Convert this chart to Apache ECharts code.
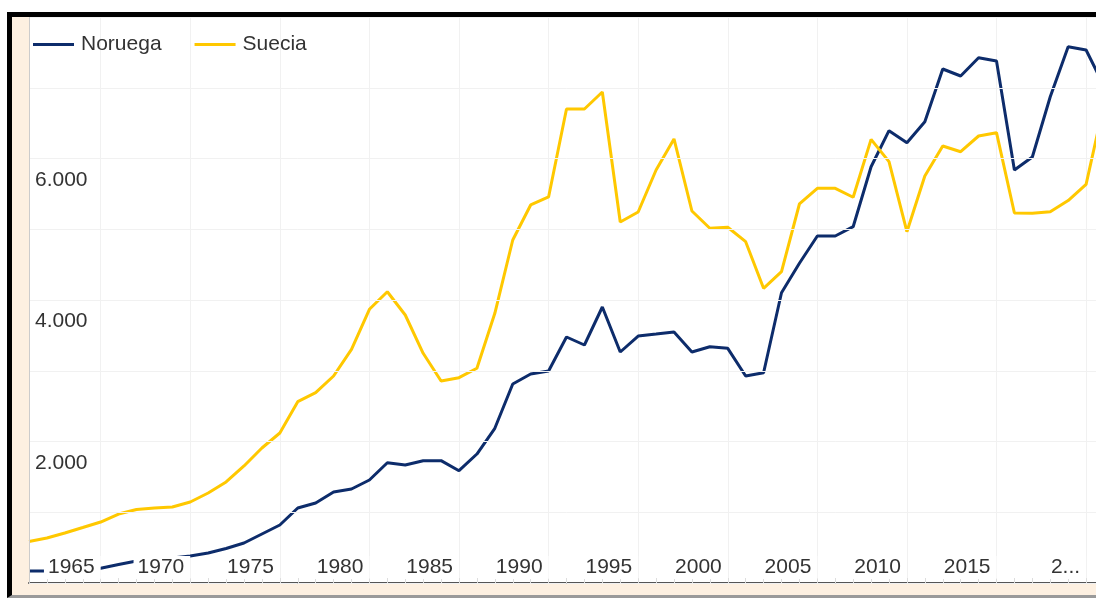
<!DOCTYPE html>
<html>
<head>
<meta charset="utf-8">
<script src="https://cdn.jsdelivr.net/npm/echarts@6/dist/echarts.min.js"></script>
<style>
  html, body { margin: 0; padding: 0; background: #fff; overflow: hidden; width: 1096px; height: 598px; }
  #frame {
    position: absolute; left: 7px; top: 12px;
    width: 1150px; height: 578px;
    border-top: 5px solid #000; border-left: 5px solid #000; border-bottom: 3px solid #9a9a9a;
    background: #fdf0e1;
  }
  #chart { width: 1150px; height: 578px; }
</style>
</head>
<body>
<div id="frame"><div id="chart"></div></div>
<script>
const years = [
  1961, 1962, 1963, 1964, 1965, 1966, 1967, 1968, 1969, 1970,
  1971, 1972, 1973, 1974, 1975, 1976, 1977, 1978, 1979, 1980,
  1981, 1982, 1983, 1984, 1985, 1986, 1987, 1988, 1989, 1990,
  1991, 1992, 1993, 1994, 1995, 1996, 1997, 1998, 1999, 2000,
  2001, 2002, 2003, 2004, 2005, 2006, 2007, 2008, 2009, 2010,
  2011, 2012, 2013, 2014, 2015, 2016, 2017, 2018, 2019, 2020, 2021
];
const noruega = [
  170, 170, 184, 198, 208, 261, 311, 339, 353, 382,
  424, 488, 565, 693, 820, 1060, 1131, 1286, 1329, 1456,
  1700, 1668, 1729, 1729, 1587, 1823, 2187, 2813, 2954, 2996,
  3477, 3364, 3901, 3265, 3491, 3519, 3548, 3265, 3340, 3317,
  2926, 2972, 4103, 4519, 4905, 4905, 5036, 5884, 6393, 6223,
  6520, 7265, 7166, 7425, 7378, 5837, 6021, 6873, 7580, 7534, 7025
];
const suecia = [
  587, 636, 707, 784, 862, 975, 1039, 1060, 1074, 1145,
  1272, 1428, 1654, 1908, 2120, 2563, 2690, 2926, 3303, 3869,
  4117, 3788, 3247, 2855, 2902, 3035, 3812, 4848, 5343, 5456,
  6700, 6700, 6940, 5102, 5244, 5837, 6276, 5258, 5014, 5028,
  4824, 4165, 4400, 5357, 5579, 5579, 5452, 6271, 5955, 4965,
  5753, 6177, 6096, 6318, 6365, 5230, 5226, 5248, 5406, 5635, 6770
];
const yTicks = [2000, 4000, 6000];

const FONT = '"Liberation Sans Narrow", "Arial Narrow", "Liberation Sans", Arial, sans-serif';
const FS = 21;
const lastLabelIdx = 59;

function fmtThousands(v) {
  return String(v).replace(/\B(?=(\d{3})+(?!\d))/g, ".");
}

function cutLabel(text) {
  const f = echarts.format && echarts.format.truncateText;
  if (f) return f(text, 32, FS + "px " + FONT, "...");
  return text.slice(0, 1) + "...";
}

const chart = echarts.init(document.getElementById("chart"));
chart.setOption({
  animation: false,
  backgroundColor: "transparent",
  textStyle: { fontFamily: FONT },
  color: ["#0d2c6b", "#ffc800"],
  legend: {
    left: 16,
    top: 12,
    icon: "rect",
    itemWidth: 41,
    itemHeight: 3,
    itemGap: 33,
    textStyle: { fontSize: FS, color: "#333", fontFamily: FONT, padding: [0, 0, 0, 2] },
    data: ["Noruega", "Suecia"],
  },
  grid: {
    show: true,
    backgroundColor: "#fff",
    borderWidth: 0,
    left: 17,
    top: 0,
    width: 1075,
    height: 566,
  },
  xAxis: [
    {
      type: "category",
      data: years,
      boundaryGap: false,
      position: "bottom",
      axisLine: { lineStyle: { color: "#555", width: 2 } },
      axisTick: { show: true, inside: true, length: 5, interval: 0, lineStyle: { color: "#ddd" } },
      axisLabel: { show: false },
      splitLine: {
        show: true,
        interval: (idx) => idx % 5 === 4,
        lineStyle: { color: "#f1f1f1", width: 1 },
      },
    },
    {
      type: "category",
      data: years,
      boundaryGap: false,
      position: "bottom",
      z: 10,
      axisLine: { show: false },
      axisTick: { show: false },
      splitLine: { show: false },
      axisLabel: {
        inside: true,
        interval: (idx) => idx % 5 === 4,
        align: "right",
        margin: 4,
        fontSize: FS,
        color: "#333",
        fontFamily: FONT,
        backgroundColor: "#fff",
        padding: [1, 6, 1, 4],
        formatter: (v, i) => (i === lastLabelIdx ? cutLabel(String(v)) : String(v)),
      },
    },
  ],
  yAxis: {
    type: "value",
    min: 0,
    max: 8000,
    interval: 1000,
    z: 10,
    axisLine: { show: true, lineStyle: { color: "#ccc", width: 1 } },
    axisTick: { show: false },
    splitLine: { lineStyle: { color: "#f1f1f1", width: 1 } },
    axisLabel: {
      inside: true,
      margin: 6,
      verticalAlign: "top",
      padding: [11, 0, 0, 0],
      fontSize: FS,
      color: "#333",
      fontFamily: FONT,
      formatter: (v) => (yTicks.indexOf(v) >= 0 ? fmtThousands(v) : ""),
    },
  },
  series: [
    {
      name: "Noruega",
      type: "line",
      data: noruega,
      symbol: "none",
      lineStyle: { width: 3 },
    },
    {
      name: "Suecia",
      type: "line",
      data: suecia,
      symbol: "none",
      lineStyle: { width: 3 },
    },
  ],
});
</script>
</body>
</html>
